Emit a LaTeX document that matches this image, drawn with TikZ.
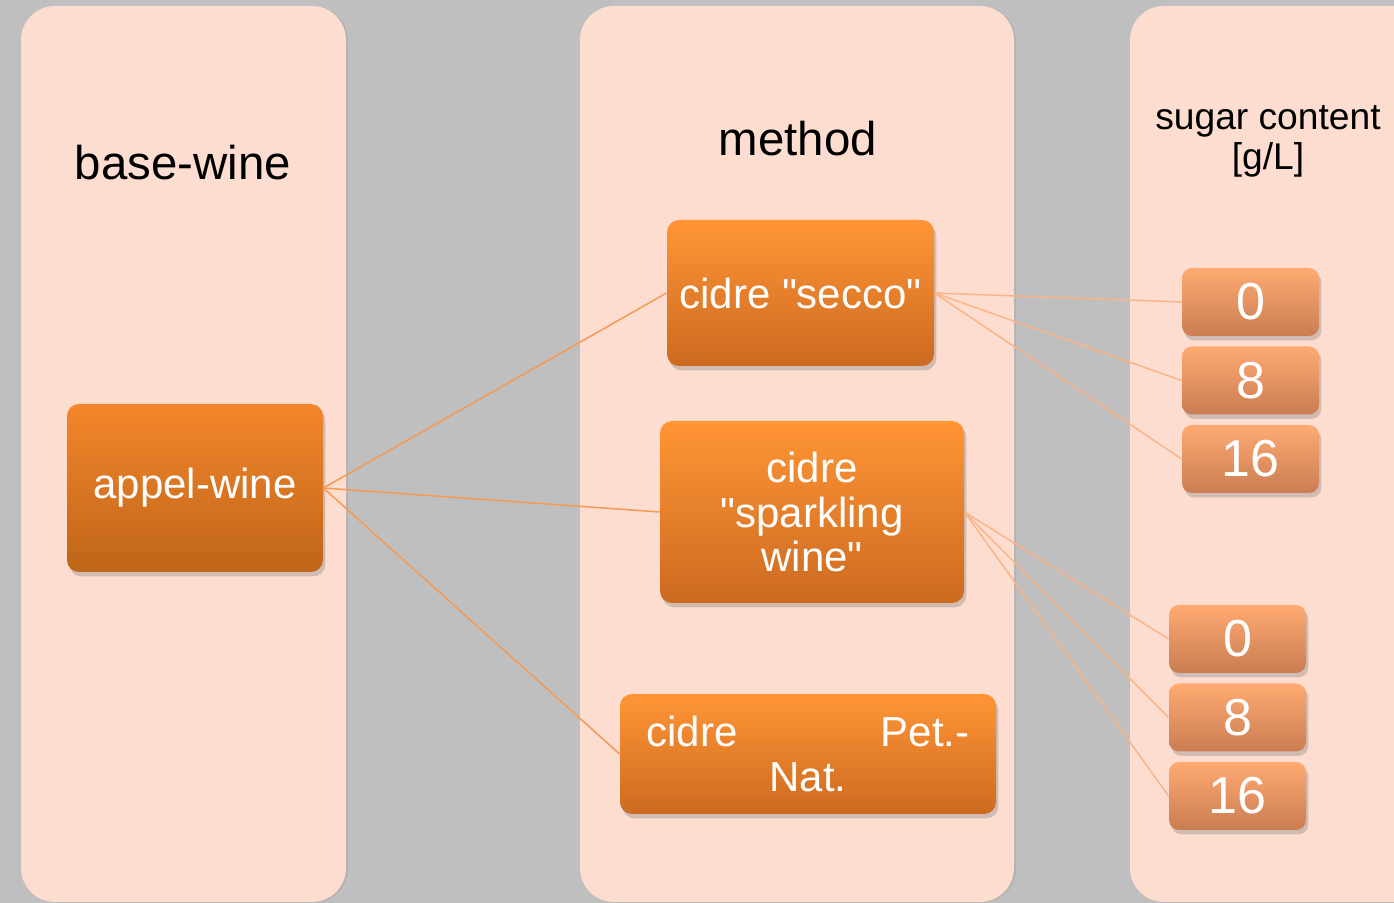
\documentclass[tikz,border=0pt]{standalone}
\usepackage{fontspec}
\setmainfont{Liberation Sans}
\usetikzlibrary{shadows}

\definecolor{slate}{HTML}{BFBFBF}
\definecolor{blush}{HTML}{FDDDD0}
\definecolor{wineTop}{HTML}{F4862B}
\definecolor{wineBot}{HTML}{BE6519}
\definecolor{methTop}{HTML}{FF9535}
\definecolor{methBot}{HTML}{CC6A21}
\definecolor{sugTop}{HTML}{FFAA72}
\definecolor{sugBot}{HTML}{C97D52}
\definecolor{linkA}{HTML}{F59A52}
\definecolor{linkB}{HTML}{F9B58A}

\tikzset{
  panel/.style={fill=blush, rounded corners=17pt,
    drop shadow={shadow xshift=1pt, shadow yshift=-0.3pt, opacity=0.2}},
  heading/.style={text=black, font=\fontsize{23.7}{28}\selectfont},
  box/.style={rectangle, rounded corners=6pt, text=white, align=center,
    shading=axis, shading angle=0,
    drop shadow={shadow xshift=1.2pt, shadow yshift=-2.2pt, opacity=0.35},
    font=\fontsize{21}{22.3}\selectfont},
  winebox/.style={box, top color=wineTop, bottom color=wineBot},
  methbox/.style={box, top color=methTop, bottom color=methBot},
  sugbox/.style={box, top color=sugTop, bottom color=sugBot,
    minimum width=68.5pt, minimum height=34pt, rounded corners=5pt,
    font=\fontsize{26}{28}\selectfont},
  linkA/.style={draw=linkA, line width=0.75pt},
  linkB/.style={draw=linkB, line width=0.75pt}
}

\begin{document}
\begin{tikzpicture}[x=0.5pt, y=-0.5pt]
  \fill[slate] (0,0) rectangle (1394,903);
  \useasboundingbox (0,0) rectangle (1394,903);
  \clip (0,0) rectangle (1394,903);

  % columns
  \path[panel] (21,6) rectangle (346,902);
  \path[panel] (580,6) rectangle (1014,902);
  \path[panel] (1130,6) rectangle (1440,902);

  \node[heading] (hbase) at (183,163) {base-wine};
  \node[heading] (hmeth) at (798,139) {method};
  \node[heading, align=center, font=\fontsize{18.6}{20}\selectfont] (hsug) at (1268,141) {sugar content\\{}[g/L]};

  % base wine
  \node[winebox, minimum width=128pt, minimum height=84pt] (apple) at (195,488) {appel-wine};

  % methods
  \node[methbox, minimum width=133.5pt, minimum height=73pt] (secco) at (800.5,293) {cidre \textquotedbl secco\textquotedbl};
  \node[methbox, minimum width=152pt, minimum height=91pt] (spark) at (812,512) {cidre\\\textquotedbl sparkling\\wine\textquotedbl};
  \node[methbox, minimum width=188pt, minimum height=60pt] (petnat) at (808,754)
    {\makebox[161.5pt]{cidre\hfill Pet.-}\\Nat.};

  % sugar content
  \node[sugbox] (s0) at (1250.5,302) {0};
  \node[sugbox] (s8) at (1250.5,380.5) {8};
  \node[sugbox] (s16) at (1250.5,459) {16};
  \node[sugbox] (p0) at (1237.5,639) {0};
  \node[sugbox] (p8) at (1237.5,717.5) {8};
  \node[sugbox] (p16) at (1237.5,796) {16};

  \draw[linkA] (apple.east) -- (secco.west);
  \draw[linkA] (apple.east) -- (spark.west);
  \draw[linkA] (apple.east) -- (petnat.west);

  \draw[linkB] (secco.east) -- (s0.west);
  \draw[linkB] (secco.east) -- (s8.west);
  \draw[linkB] (secco.east) -- (s16.west);
  \draw[linkB] (spark.east) -- (p0.west);
  \draw[linkB] (spark.east) -- (p8.west);
  \draw[linkB] (spark.east) -- (p16.west);
\end{tikzpicture}
\end{document}
